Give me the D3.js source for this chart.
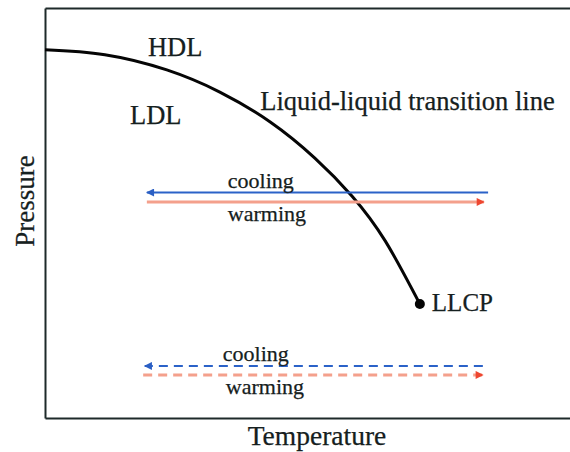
<!DOCTYPE html>
<html>
<head>
<meta charset="utf-8">
<script src="https://cdn.jsdelivr.net/npm/d3@7"></script>
<style>
  body { margin: 0; background: #fff; }
  text { font-family: "Liberation Serif", "Times New Roman", serif; fill: #152020; stroke: #152020; stroke-width: 0.25px; }
</style>
</head>
<body>
<div class="chart"></div>
<script>
var svgWidth = 570;
var svgHeight = 452;

var margin = { top: 8, right: 0, bottom: 34, left: 45 };
var width = svgWidth - margin.left - margin.right;
var height = svgHeight - margin.top - margin.bottom;

// transition line (arbitrary temperature / pressure units)
var lineTemp = [0, 1.14, 2.32, 3.33, 4.29, 5.14, 5.85, 6.48, 7.14];
var linePres = [8.98, 8.86, 8.49, 7.95, 7.22, 6.34, 5.41, 4.32, 2.78];

// critical point
var llcpTemp = 7.14;
var llcpPres = 2.78;

// cooling / warming paths
var pathNames = ["cooling", "warming", "cooling", "warming"];
var pathStart = [8.44, 1.94, 8.34, 1.87];
var pathEnd = [1.94, 8.36, 1.90, 8.34];
var pathPres = [5.50, 5.27, 1.27, 1.05];
var pathDashed = [false, false, true, true];

// region labels
var regionLabels = ["HDL", "LDL", "Liquid-liquid transition line"];
var regionTemp = [1.96, 1.62, 4.1];
var regionPres = [8.83, 7.17, 7.51];

var svg = d3
  .select(".chart")
  .append("svg")
  .attr("width", svgWidth)
  .attr("height", svgHeight);

var chartGroup = svg
  .append("g")
  .attr("transform", `translate(${margin.left}, ${margin.top})`);

var xScale = d3.scaleLinear().domain([0, 10]).range([0, width]);
var yScale = d3.scaleLinear().domain([0, 10]).range([height, 0]);

// arrow markers
var defs = svg.append("defs");
var markerColors = { cooling: "#2b5fc4", warming: "#ee4630" };
Object.keys(markerColors).forEach(function (k) {
  defs
    .append("marker")
    .attr("id", "head-" + k)
    .attr("viewBox", "0 0 10 10")
    .attr("refX", 9)
    .attr("refY", 5)
    .attr("markerUnits", "userSpaceOnUse")
    .attr("markerWidth", 11)
    .attr("markerHeight", 8)
    .attr("orient", "auto")
    .append("path")
    .attr("d", "M0,0 L10,5 L0,10 Z")
    .attr("fill", markerColors[k]);
});

// frame: axes with no ticks
chartGroup
  .append("g")
  .attr("transform", `translate(0,${height})`)
  .call(d3.axisBottom(xScale).tickValues([]).tickSizeOuter(0));
chartGroup
  .append("g")
  .call(d3.axisTop(xScale).tickValues([]).tickSizeOuter(0));
chartGroup
  .append("g")
  .call(d3.axisLeft(yScale).tickValues([]).tickSizeOuter(0));
chartGroup.selectAll(".domain").attr("stroke", "#1e2a2a").attr("stroke-width", 2);

// transition line
var lineData = lineTemp.map((t, i) => ({ t: t, p: linePres[i] }));
chartGroup
  .append("path")
  .datum(lineData)
  .attr("fill", "none")
  .attr("stroke", "#050505")
  .attr("stroke-width", 3)
  .attr(
    "d",
    d3
      .line()
      .curve(d3.curveNatural)
      .x((d) => xScale(d.t))
      .y((d) => yScale(d.p))
  );

chartGroup
  .append("circle")
  .attr("cx", xScale(llcpTemp))
  .attr("cy", yScale(llcpPres))
  .attr("r", 5)
  .attr("fill", "#050505");

chartGroup
  .append("text")
  .attr("x", xScale(llcpTemp) + 12)
  .attr("y", yScale(llcpPres) + 7)
  .style("font-size", "25px")
  .text("LLCP");

// cooling / warming arrows
pathNames.forEach(function (name, i) {
  var cool = name === "cooling";
  chartGroup
    .append("line")
    .attr("x1", xScale(pathStart[i]))
    .attr("x2", xScale(pathEnd[i]))
    .attr("y1", yScale(pathPres[i]))
    .attr("y2", yScale(pathPres[i]))
    .attr("stroke", cool ? "#2b62c8" : "#f4a08c")
    .attr("stroke-width", cool ? 2 : 3)
    .attr("stroke-dasharray", pathDashed[i] ? "9,6" : null)
    .attr("marker-end", `url(#head-${name})`);

  chartGroup
    .append("text")
    .attr("x", xScale(1.94) + 81 + (pathDashed[i] ? (cool ? -5 : -2) : 0))
    .attr("y", yScale(pathPres[i]) + (cool ? -5 : 19))
    .style("font-size", "22px")
    .text(name);
});

// region labels
regionLabels.forEach(function (lab, i) {
  chartGroup
    .append("text")
    .attr("x", xScale(regionTemp[i]))
    .attr("y", yScale(regionPres[i]))
    .style("font-size", "26.5px")
    .text(lab);
});

// axis titles
svg
  .append("text")
  .attr("x", 317)
  .attr("y", 445)
  .style("text-anchor", "middle")
  .style("font-size", "27.5px")
  .text("Temperature");

svg
  .append("text")
  .attr("transform", "rotate(-90)")
  .attr("x", -201)
  .attr("y", 34)
  .style("text-anchor", "middle")
  .style("font-size", "27px")
  .text("Pressure");
</script>
</body>
</html>
